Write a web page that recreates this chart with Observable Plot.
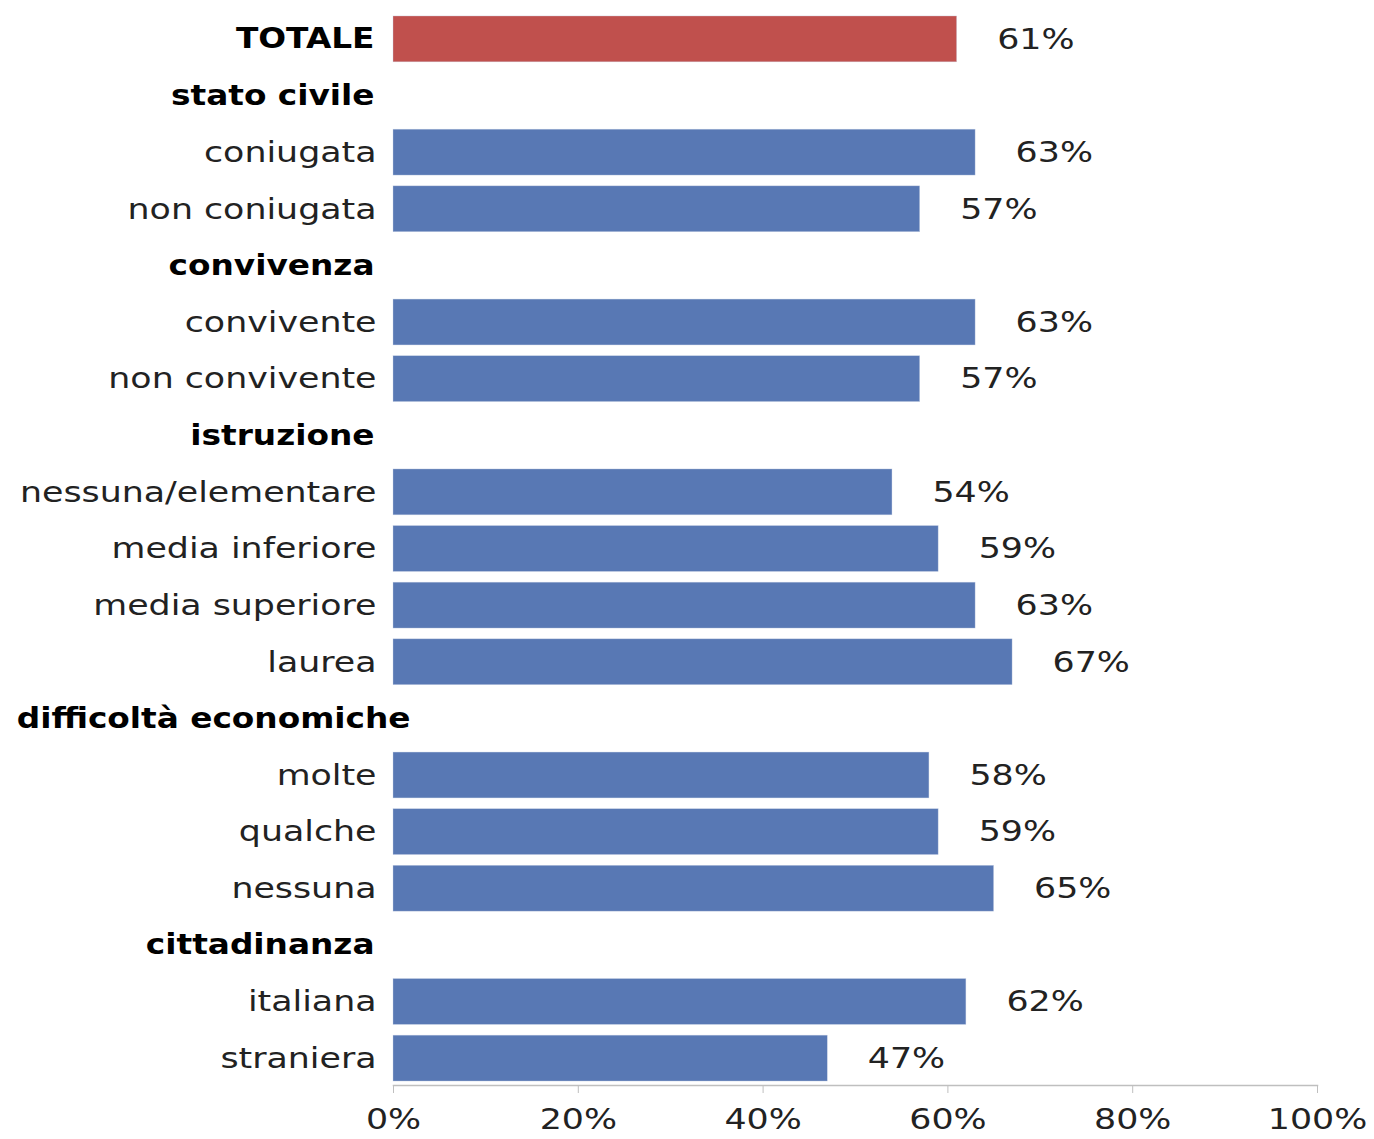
<!DOCTYPE html>
<html>
<head>
<meta charset="utf-8">
<script src="https://cdn.jsdelivr.net/npm/d3@7"></script>
<script src="https://cdn.jsdelivr.net/npm/@observablehq/plot@0.6"></script>
<style>
  html, body { margin: 0; padding: 0; background: #ffffff; }
  #chart svg { display: block; }
</style>
</head>
<body>
<div id="chart"></div>
<script>
// ---- data ----
const labels = [
  "TOTALE", "stato civile", "coniugata", "non coniugata",
  "convivenza", "convivente", "non convivente",
  "istruzione", "nessuna/elementare", "media inferiore", "media superiore", "laurea",
  "difficoltà economiche", "molte", "qualche", "nessuna",
  "cittadinanza", "italiana", "straniera"
];
const kinds = [
  "total", "header", "item", "item",
  "header", "item", "item",
  "header", "item", "item", "item", "item",
  "header", "item", "item", "item",
  "header", "item", "item"
];
const values = [
  61, null, 63, 57,
  null, 63, 57,
  null, 54, 59, 63, 67,
  null, 58, 59, 65,
  null, 62, 47
];
const xTicks = [0, 20, 40, 60, 80, 100];

const rows = labels.map((label, i) => ({label, kind: kinds[i], value: values[i]}));
const bars = rows.filter(d => d.value != null);
const items = rows.filter(d => d.kind === "item");
const heads = rows.filter(d => d.kind !== "item" && d.label !== "difficoltà economiche");
const longHeads = rows.filter(d => d.label === "difficoltà economiche");

const FONT = "DejaVu Sans, sans-serif";

const chart = Plot.plot({
  width: 1374,
  height: 1139,
  marginLeft: 393,
  marginRight: 57,
  marginTop: 12,
  marginBottom: 54,
  style: {fontFamily: FONT, background: "#ffffff"},
  x: {domain: [0, 100], axis: null},
  y: {domain: labels, paddingInner: 0.19, paddingOuter: 0.07, round: false, axis: null},
  color: {domain: ["total", "item"], range: ["#C0504D", "#5878B4"]},
  marks: [
    Plot.barX(bars, {x: "value", y: "label", fill: "kind", stroke: "#c9d3e6", strokeWidth: 0.6, strokeOpacity: 0.6}),
    Plot.frame({anchor: "bottom", stroke: "#bfbfbf", strokeWidth: 1.5}),
    Plot.axisX({ticks: xTicks, tickFormat: d => d + "%", tickSize: 8, tickPadding: 15,
      stroke: "#bfbfbf", fontSize: 29, fill: "#222", label: null}),
    Plot.text(bars, {x: "value", y: "label", text: d => d.value + "%", textAnchor: "start",
      dx: 40, fontSize: 29, fill: "#222"}),
    Plot.text(items, {y: "label", text: "label", frameAnchor: "left", textAnchor: "end",
      dx: -17, fontSize: 29, fill: "#222"}),
    Plot.text(heads, {y: "label", text: "label", frameAnchor: "left", textAnchor: "end",
      dx: -19, fontSize: 28, fontWeight: "bold", fill: "#000"}),
    Plot.text(longHeads, {y: "label", text: "label", frameAnchor: "left", textAnchor: "end",
      dx: 17, fontSize: 28, fontWeight: "bold", fill: "#000"})
  ]
});

// horizontally stretch all text, as in the reference
chart.querySelectorAll("text").forEach(t => {
  const bold = t.closest('[font-weight="bold"]');
  const s = bold ? 1.17 : 1.2;
  const tr = t.getAttribute("transform");
  if (tr) {
    t.setAttribute("transform", tr + ` scale(${s},1)`);
  } else {
    const x = +t.getAttribute("x") || 0, y = +t.getAttribute("y") || 0;
    t.setAttribute("transform", `translate(${x},${y}) scale(${s},1) translate(${-x},${-y})`);
  }
});

document.getElementById("chart").appendChild(chart);
</script>
</body>
</html>
